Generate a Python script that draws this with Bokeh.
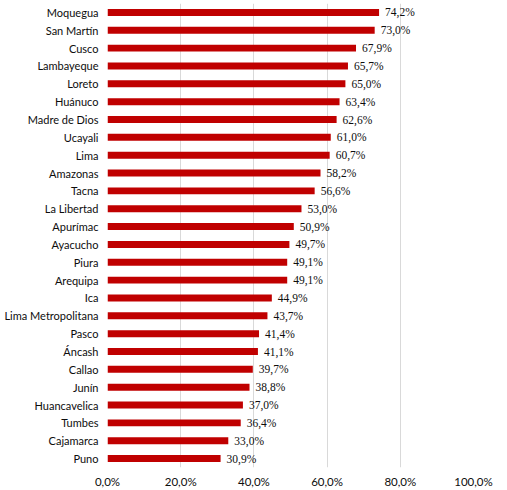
from bokeh.plotting import figure
from bokeh.models import Range1d, FixedTicker, ColumnDataSource, LabelSet
from bokeh.embed import file_html
from bokeh.resources import INLINE

regions = ["Moquegua", "San Martín", "Cusco", "Lambayeque", "Loreto", "Huánuco",
           "Madre de Dios", "Ucayali", "Lima", "Amazonas", "Tacna", "La Libertad",
           "Apurímac", "Ayacucho", "Piura", "Arequipa", "Ica", "Lima Metropolitana",
           "Pasco", "Áncash", "Callao", "Junín", "Huancavelica", "Tumbes",
           "Cajamarca", "Puno"]
values = [74.2, 73.0, 67.9, 65.7, 65.0, 63.4, 62.6, 61.0, 60.7, 58.2, 56.6, 53.0,
          50.9, 49.7, 49.1, 49.1, 44.9, 43.7, 41.4, 41.1, 39.7, 38.8, 37.0, 36.4,
          33.0, 30.9]
x_ticks = [0, 20, 40, 60, 80, 100]
x_tick_labels = ["0,0%", "20,0%", "40,0%", "60,0%", "80,0%", "100,0%"]

n = len(regions)
ypos = [n - 1 - i for i in range(n)]
labels = [f"{v:.1f}".replace(".", ",") + "%" for v in values]

src = ColumnDataSource(dict(y=ypos, v=values, lab=labels))

FONT = "Lato"
TXT = "#0d0d0d"

p = figure(width=507, height=490, output_backend="svg", toolbar_location=None,
           x_range=Range1d(0, 100), y_range=Range1d(-0.5, n - 0.5),
           min_border_left=107, min_border_right=34, min_border_top=3,
           min_border_bottom=22)
p.outline_line_color = None
p.background_fill_color = "white"
p.border_fill_color = "white"

p.hbar(y="y", right="v", left=0, height=0.39, source=src,
       fill_color="#C00000", line_color=None)
p.add_layout(LabelSet(x="v", y="y", text="lab", source=src, x_offset=6,
                      text_font=FONT, text_font_size="11.5px", text_color=TXT,
                      text_baseline="middle", text_align="left"))

p.xaxis.ticker = FixedTicker(ticks=x_ticks)
p.xaxis.major_label_overrides = {t: l for t, l in zip(x_ticks, x_tick_labels)}
p.yaxis.ticker = FixedTicker(ticks=ypos)
p.yaxis.major_label_overrides = {y: r for y, r in zip(ypos, regions)}

for ax in (p.xaxis[0], p.yaxis[0]):
    ax.axis_line_color = None
    ax.major_tick_line_color = None
    ax.minor_tick_line_color = None
    ax.major_tick_out = 0
    ax.major_tick_in = 0
    ax.minor_tick_out = 0
    ax.minor_tick_in = 0
    ax.major_label_text_font = FONT
    ax.major_label_text_color = TXT
p.xaxis.major_label_text_font_size = "11.5px"
p.yaxis.major_label_text_font_size = "11px"
p.xaxis.major_label_standoff = 7
p.yaxis.major_label_standoff = 9

p.xgrid.ticker = FixedTicker(ticks=x_ticks)
p.xgrid.grid_line_color = "#d9d9d9"
p.ygrid.grid_line_color = None

open("out.html", "w").write(file_html(p, INLINE))
